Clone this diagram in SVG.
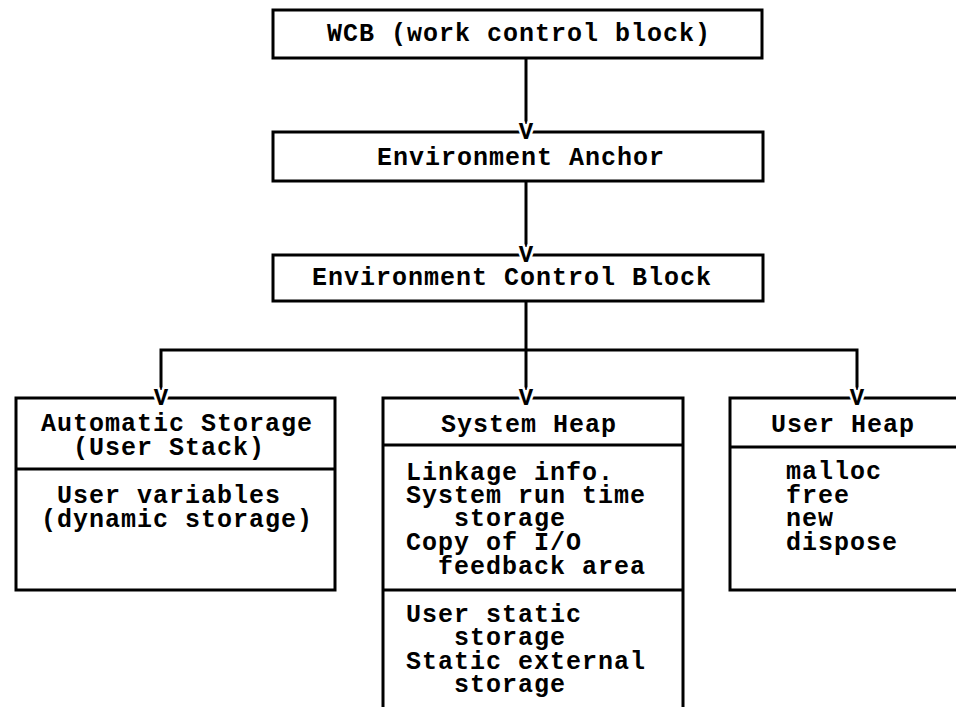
<svg xmlns="http://www.w3.org/2000/svg" width="956" height="707" viewBox="0 0 956 707">
<style>
  .box { fill: none; stroke: #000; stroke-width: 3; }
  .ln { fill: none; stroke: #000; stroke-width: 3; }
  text { font-family: "Liberation Mono", "DejaVu Sans Mono", monospace; font-weight: bold; font-size: 25px; letter-spacing: 1px; fill: #000; }
  .v { font-size: 24px; letter-spacing: 0; text-anchor: middle; stroke: #fff; stroke-width: 5px; paint-order: stroke; stroke-linejoin: round; }
</style>
<rect width="956" height="707" fill="#fff"/>

<g id="connectors">
  <line class="ln" x1="526" y1="58" x2="526" y2="124"/>
  <line class="ln" x1="526" y1="181" x2="526" y2="247"/>
  <line class="ln" x1="526" y1="301" x2="526" y2="390"/>
  <polyline class="ln" points="161,390 161,350 857,350 857,390"/>
</g>

<g id="wcb">
  <rect class="box" x="273" y="10" width="489" height="48"/>
  <text x="327" y="41">WCB (work control block)</text>
</g>

<g id="anchor">
  <rect class="box" x="273" y="132" width="490" height="49"/>
  <text x="377" y="165">Environment Anchor</text>
  <text class="v" x="526" y="139">V</text>
</g>

<g id="ecb">
  <rect class="box" x="273" y="255" width="490" height="46"/>
  <text x="312" y="285">Environment Control Block</text>
  <text class="v" x="526" y="262">V</text>
</g>

<g id="automatic-storage">
  <rect class="box" x="16" y="398" width="319" height="192"/>
  <line class="ln" x1="16" y1="469" x2="335" y2="469"/>
  <text x="41" y="431">Automatic Storage</text>
  <text x="73" y="455">(User Stack)</text>
  <text x="57" y="503">User variables</text>
  <text x="41" y="527">(dynamic storage)</text>
  <text class="v" x="161" y="405">V</text>
</g>

<g id="system-heap">
  <polyline class="box" points="383,707 383,398 683,398 683,707"/>
  <line class="ln" x1="383" y1="445" x2="683" y2="445"/>
  <line class="ln" x1="383" y1="590" x2="683" y2="590"/>
  <text x="441" y="432">System Heap</text>
  <text x="406" y="480">Linkage info.</text>
  <text x="406" y="503">System run time</text>
  <text x="454" y="526">storage</text>
  <text x="406" y="550">Copy of I/O</text>
  <text x="438" y="574">feedback area</text>
  <text x="406" y="622">User static</text>
  <text x="454" y="645">storage</text>
  <text x="406" y="669">Static external</text>
  <text x="454" y="692">storage</text>
  <text class="v" x="526" y="405">V</text>
</g>

<g id="user-heap">
  <polyline class="box" points="960,398 730,398 730,590 960,590"/>
  <line class="ln" x1="730" y1="447" x2="960" y2="447"/>
  <text x="771" y="432">User Heap</text>
  <text x="786" y="479">malloc</text>
  <text x="786" y="503">free</text>
  <text x="786" y="526">new</text>
  <text x="786" y="550">dispose</text>
  <text class="v" x="857" y="405">V</text>
</g>
</svg>
